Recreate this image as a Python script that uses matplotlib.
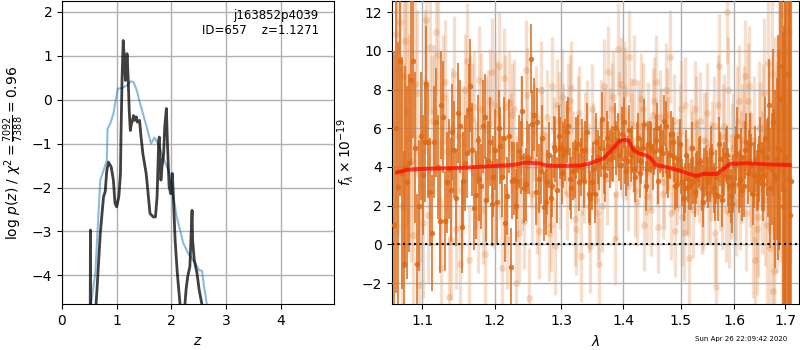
import matplotlib
matplotlib.use("Agg")
import matplotlib.pyplot as plt
from matplotlib.ticker import FixedLocator, FixedFormatter, NullLocator

# ---------------- left panel: log p(z) ----------------
z_smooth = [0.50, 0.53, 0.61, 0.70, 0.76, 0.82, 0.834, 0.88, 0.94, 1.02, 1.10, 1.19, 1.26, 1.31,
            1.37, 1.43, 1.55, 1.63, 1.69, 1.74, 1.86, 1.98, 2.04, 2.10, 2.22, 2.31, 2.44, 2.51,
            2.56, 2.60, 2.65, 2.70]
lnp_smooth = [-6.0, -4.66, -3.95, -1.83, -1.61, -1.38, -0.66, -0.55, -0.32, 0.25, 0.27, 0.33, 0.42, 0.40,
              0.21, -0.09, -0.62, -1.00, -0.86, -0.96, -1.34, -1.72, -2.21, -2.67, -3.27, -3.50, -3.73, -3.89,
              -3.89, -4.26, -4.66, -6.0]

z_grid = [0.50, 0.515, 0.52, 0.525, 0.54, 0.58, 0.64, 0.70, 0.76, 0.79, 0.82, 0.85, 0.90, 0.94, 0.97,
          1.00, 1.04, 1.07, 1.08, 1.10, 1.12, 1.14, 1.16, 1.18, 1.19, 1.21, 1.23, 1.25, 1.27, 1.29,
          1.31, 1.33, 1.36, 1.38, 1.42, 1.44, 1.48, 1.50, 1.54, 1.57, 1.61, 1.67, 1.71, 1.74, 1.77,
          1.78, 1.81, 1.83, 1.86, 1.88, 1.91, 1.93, 1.96, 1.99, 2.02, 2.04, 2.07, 2.11, 2.16, 2.20,
          2.25, 2.27, 2.30, 2.34, 2.38, 2.39, 2.42, 2.47, 2.51, 2.56, 2.60]
lnp_grid = [-6.0, -6.0, -2.97, -6.0, -6.0, -5.5, -4.33, -3.05, -2.21, -2.10, -1.61, -1.42, -1.53, -1.83, -2.36,
            -2.44, -2.21, -1.68, -0.77, 0.52, 1.35, 0.97, 0.44, 0.74, 1.05, 0.52, -0.24, -0.70, -0.55, -0.47,
            -0.36, -0.47, -0.39, -0.51, -0.47, -0.77, -1.23, -1.38, -1.68, -2.06, -2.59, -2.67, -2.67, -2.21, -0.92,
            -0.85, -1.83, -1.53, -1.23, -0.62, -0.20, -1.00, -1.98, -2.14, -1.68, -2.29, -3.20, -3.95, -4.66, -5.5,
            -4.66, -4.33, -4.03, -3.80, -2.52, -3.20, -3.65, -3.95, -4.33, -4.66, -6.0]

# ---------------- right panel: spectrum ----------------
# strong beam, first set
wave_a = [1.063, 1.068, 1.073, 1.078, 1.083, 1.088, 1.093, 1.098, 1.103, 1.108, 1.113, 1.118, 1.123,
          1.128, 1.133, 1.138, 1.143, 1.148, 1.153, 1.158, 1.163, 1.168, 1.173, 1.178, 1.183, 1.188,
          1.193, 1.198, 1.203, 1.208, 1.213, 1.218, 1.223, 1.228, 1.233, 1.238, 1.243, 1.248, 1.253,
          1.258, 1.263, 1.268, 1.273, 1.278, 1.283, 1.288, 1.293, 1.298, 1.303, 1.308, 1.313, 1.318,
          1.323, 1.328, 1.333, 1.338, 1.343, 1.348, 1.353, 1.358, 1.363, 1.368, 1.373, 1.378, 1.383,
          1.388, 1.393, 1.398, 1.403, 1.408, 1.413, 1.418, 1.423, 1.428, 1.433, 1.438, 1.443, 1.448,
          1.453, 1.458, 1.463, 1.468, 1.473, 1.478, 1.483, 1.488, 1.493, 1.498, 1.503, 1.508, 1.513,
          1.518, 1.523, 1.528, 1.533, 1.538, 1.543, 1.548, 1.553, 1.558, 1.563, 1.568, 1.573, 1.578,
          1.583, 1.588, 1.593, 1.598, 1.603, 1.608, 1.613, 1.618, 1.623, 1.628, 1.633, 1.638, 1.643,
          1.648, 1.653, 1.658, 1.663, 1.668, 1.673, 1.678, 1.683, 1.688, 1.693, 1.698, 1.703, 1.708,
          1.713]
flux_a = [1.0, 2.95, 3.7, 4.0, 4.2, 9.5, -1.0, 5.6, 5.3, 5.3, 0.6, 6.3, 1.2,
          6.6, 3.2, 2.8, 4.9, 6.8, 0.9, 4.2, 7.0, 4.9, 2.55, 3.4, 6.1, 2.3,
          5.3, 3.5, 2.2, 5.1, 5.5, 2.5, -1.15, 3.4, 3.3, 4.5, 2.9, 4.5, 9.6,
          6.7, 6.3, 3.8, 1.95, 3.2, 2.4, 5.05, 2.8, 5.0, 4.6, 5.8, 3.4, 3.8,
          5.0, 3.2, 4.9, 4.9, 2.6, 3.2, 2.6, 4.5, 5.0, 4.0, 5.5, 4.4, 4.5,
          5.0, 4.6, 5.7, 4.4, 4.3, 4.6, 3.9, 5.0, 3.7, 5.0, 3.0, 5.2, 5.0,
          4.8, 6.0, 4.9, 4.7, 6.1, 3.6, 5.7, 4.5, 3.1, 5.2, 3.2, 2.9, 3.4,
          3.1, 3.3, 3.4, 4.2, 2.9, 3.7, 3.5, 3.6, 3.9, 2.6, 2.5, 4.4, 3.6,
          4.6, 3.5, 2.5, 3.1, 4.7, 3.1, 4.5, 3.0, 5.3, 4.3, 4.1, 3.6, 3.3,
          3.9, 3.5, 3.6, 4.5, 7.2, 3.9, 3.6, 4.4, 4.9, 9.2, 2.8, 4.5, 3.4,
          3.3]
err_a = [9.0, 7.5, 6.0, 5.2, 4.6, 4.0, 3.6, 3.3, 3.1, 2.9, 3.0, 2.8, 2.7,
         2.9, 2.6, 2.7, 2.5, 2.6, 2.4, 2.5, 2.3, 2.4, 2.3, 2.2, 2.4, 2.2,
         2.3, 2.1, 2.2, 2.0, 2.1, 2.0, 2.0, 1.9, 2.0, 1.9, 1.8, 1.9, 1.8,
         1.9, 1.8, 1.7, 1.8, 1.7, 1.8, 1.6, 1.7, 1.6, 1.7, 1.6, 1.6, 1.5,
         1.6, 1.5, 1.6, 1.5, 1.5, 1.4, 1.5, 1.4, 1.5, 1.4, 1.4, 1.5, 1.3,
         1.4, 1.3, 1.4, 1.3, 1.3, 1.4, 1.2, 1.3, 1.3, 1.2, 1.3, 1.2, 1.3,
         1.2, 1.3, 1.2, 1.2, 1.3, 1.2, 1.2, 1.3, 1.2, 1.3, 1.2, 1.3, 1.2,
         1.3, 1.2, 1.3, 1.3, 1.2, 1.3, 1.3, 1.4, 1.3, 1.4, 1.3, 1.4, 1.4,
         1.4, 1.5, 1.4, 1.5, 1.4, 1.5, 1.5, 1.6, 1.5, 1.6, 1.6, 1.7, 1.6,
         1.7, 1.8, 1.9, 2.0, 2.4, 2.9, 3.4, 4.2, 5.2, 6.5, 8.5, 10.0, 12.0,
         14.0]

# strong beam, second set
wave_c = [1.0655, 1.0705, 1.0755, 1.0805, 1.0855, 1.0905, 1.0955,
          1.1005, 1.1055, 1.1105, 1.1155, 1.1205, 1.1255, 1.1305, 1.1355, 1.1405, 1.1455,
          1.1505, 1.1555, 1.1605, 1.1655, 1.1705, 1.1755, 1.1805, 1.1855, 1.1905, 1.1955,
          1.2005, 1.2055, 1.2105, 1.2155, 1.2205, 1.2255, 1.2305, 1.2355, 1.2405, 1.2455,
          1.2505, 1.2555, 1.2605, 1.2655, 1.2705, 1.2755, 1.2805, 1.2855, 1.2905, 1.2955,
          1.3005, 1.3055, 1.3105, 1.3155, 1.3205, 1.3255, 1.3305, 1.3355, 1.3405, 1.3455,
          1.3505, 1.3555, 1.3605, 1.3655, 1.3705, 1.3755, 1.3805, 1.3855, 1.3905, 1.3955,
          1.4005, 1.4055, 1.4105, 1.4155, 1.4205, 1.4255, 1.4305, 1.4355, 1.4405, 1.4455,
          1.4505, 1.4555, 1.4605, 1.4655, 1.4705, 1.4755, 1.4805, 1.4855, 1.4905, 1.4955,
          1.5005, 1.5055, 1.5105, 1.5155, 1.5205, 1.5255, 1.5305, 1.5355, 1.5405, 1.5455,
          1.5505, 1.5555, 1.5605, 1.5655, 1.5705, 1.5755, 1.5805, 1.5855, 1.5905, 1.5955,
          1.6005, 1.6055, 1.6105, 1.6155, 1.6205, 1.6255, 1.6305, 1.6355, 1.6405, 1.6455,
          1.6505, 1.6555, 1.6605, 1.6655, 1.6705, 1.6755, 1.6805, 1.6855, 1.6905, 1.6955,
          1.7005, 1.7055, 1.7105]
flux_c = [6.0, 9.5, -1.0, 3.2, 8.5, 5.0, 2.0,
          3.6, 8.3, 2.7, 5.3, 4.0, 7.2, 1.2, 3.9, 5.8, 2.4,
          6.1, 3.3, 4.7, 8.2, 1.9, 5.4, 3.0, 6.6, 4.3, 2.1,
          4.9, 6.0, 3.5, 1.1, 5.6, 3.3, 2.0, 4.8, 6.9, 3.1,
          4.4, 6.2, 2.7, 3.4, 5.5, 2.2, 4.6, 3.0, 4.9, 5.6,
          3.7, 4.9, 6.1, 2.9, 3.9, 5.2, 4.0, 3.3, 5.8, 2.4,
          3.9, 5.3, 4.2, 6.5, 3.6, 5.1, 4.7, 6.0, 5.4, 4.1,
          6.3, 3.8, 5.9, 4.9, 3.5, 5.5, 4.3, 6.2, 3.9, 5.1,
          4.0, 5.4, 3.3, 5.0, 6.4, 3.8, 4.6, 5.3, 3.0, 4.4,
          3.9, 2.4, 4.6, 3.0, 5.0, 2.7, 3.6, 4.3, 2.2, 3.8,
          3.2, 4.7, 2.9, 3.5, 5.2, 2.3, 3.9, 4.6, 3.0, 2.1,
          4.1, 5.6, 3.4, 2.8, 4.9, 3.7, 5.2, 2.6, 4.4, 3.5,
          4.8, 3.1, 5.5, 4.0, 2.9, 6.3, 3.4, 5.0, 7.5, 2.0,
          4.2, 8.8, 1.5]
err_c = [8.5, 7.0, 5.8, 5.0, 4.4, 3.9, 3.4,
         3.1, 3.0, 2.8, 2.9, 2.7, 2.8, 2.6, 2.6, 2.5, 2.5,
         2.4, 2.5, 2.3, 2.4, 2.2, 2.3, 2.2, 2.2, 2.1, 2.2,
         2.1, 2.0, 2.1, 2.0, 1.9, 2.0, 1.9, 1.9, 1.8, 1.9,
         1.8, 1.8, 1.7, 1.8, 1.7, 1.7, 1.7, 1.6, 1.7, 1.6,
         1.6, 1.6, 1.5, 1.6, 1.5, 1.5, 1.5, 1.4, 1.5, 1.4,
         1.4, 1.5, 1.4, 1.4, 1.4, 1.3, 1.4, 1.3, 1.4, 1.3,
         1.3, 1.3, 1.3, 1.2, 1.3, 1.3, 1.2, 1.3, 1.2, 1.3,
         1.2, 1.3, 1.2, 1.2, 1.3, 1.2, 1.2, 1.3, 1.2, 1.2,
         1.3, 1.2, 1.3, 1.2, 1.3, 1.3, 1.2, 1.3, 1.3, 1.3,
         1.3, 1.4, 1.3, 1.4, 1.4, 1.4, 1.4, 1.5, 1.4, 1.5,
         1.5, 1.5, 1.5, 1.6, 1.5, 1.6, 1.6, 1.6, 1.7, 1.7,
         1.8, 1.9, 2.1, 2.6, 3.1, 3.8, 4.6, 5.8, 7.5, 9.0,
         11.0, 13.0, 15.0]

# weak beam, first set
wave_b = [1.0655, 1.0705, 1.0755, 1.0805, 1.0855, 1.0905, 1.0955, 1.1005, 1.1055, 1.1105, 1.1155,
          1.1205, 1.1255, 1.1305, 1.1355, 1.1405, 1.1455, 1.1505, 1.1555, 1.1605, 1.1655, 1.1705,
          1.1755, 1.1805, 1.1855, 1.1905, 1.1955, 1.2005, 1.2055, 1.2105, 1.2155, 1.2205, 1.2255,
          1.2305, 1.2355, 1.2405, 1.2455, 1.2505, 1.2555, 1.2605, 1.2655, 1.2705, 1.2755, 1.2805,
          1.2855, 1.2905, 1.2955, 1.3005, 1.3055, 1.3105, 1.3155, 1.3205, 1.3255, 1.3305, 1.3355,
          1.3405, 1.3455, 1.3505, 1.3555, 1.3605, 1.3655, 1.3705, 1.3755, 1.3805, 1.3855, 1.3905,
          1.3955, 1.4005, 1.4055, 1.4105, 1.4155, 1.4205, 1.4255, 1.4305, 1.4355, 1.4405, 1.4455,
          1.4505, 1.4555, 1.4605, 1.4655, 1.4705, 1.4755, 1.4805, 1.4855, 1.4905, 1.4955, 1.5005,
          1.5055, 1.5105, 1.5155, 1.5205, 1.5255, 1.5305, 1.5355, 1.5405, 1.5455, 1.5505, 1.5555,
          1.5605, 1.5655, 1.5705, 1.5755, 1.5805, 1.5855, 1.5905, 1.5955, 1.6005, 1.6055, 1.6105,
          1.6155, 1.6205, 1.6255, 1.6305, 1.6355, 1.6405, 1.6455, 1.6505, 1.6555, 1.6605, 1.6655,
          1.6705, 1.6755, 1.6805, 1.6855, 1.6905, 1.6955, 1.7005, 1.7055, 1.7105]
flux_b = [10.9, 11.5, 8.7, 6.9, 4.3, 8.3, -2.1, 1.1, 11.6, 10.2, 6.9,
          9.8, -1.2, 8.4, -2.7, 6.0, 0.8, -1.0, 5.2, 9.5, 6.8, 7.1,
          1.4, 7.0, -0.5, 6.2, 8.9, 7.2, 9.2, -1.2, 7.1, 7.3, 6.7,
          -2.0, 0.6, 3.3, 9.0, -2.8, 2.6, 6.6, 0.7, 5.7, 3.3, 0.6,
          8.2, -0.1, 6.4, 7.6, 5.0, 7.0, 8.1, 1.3, 6.3, -0.6, 3.5,
          6.1, -0.1, 4.9, 2.3, -1.0, 2.0, 5.7, 8.9, 7.0, 0.3, 10.1,
          8.3, 8.1, 4.7, 9.7, 5.4, 2.8, 6.1, 7.5, 1.0, 2.5, 4.2,
          6.7, 8.4, 0.9, 5.7, 3.2, 6.7, 9.7, 4.0, 0.7, 4.1, 7.0,
          0.6, 3.0, -0.7, 4.4, 7.0, 4.0, 6.4, 2.2, 5.3, 2.6, 3.8,
          6.1, -2.2, 9.2, 2.4, 6.1, 12.0, 1.6, 4.5, 3.0, 6.4, 2.6,
          5.4, 8.7, 7.4, 3.9, 0.2, -0.8, 1.4, 5.2, 6.0, 2.3, 9.4,
          -0.2, -2.4, 6.7, 5.0, 3.7, 11.9, 10.0, 2.0, 6.0]
err_b = [9.0, 8.0, 7.0, 6.0, 5.2, 4.6, 4.2, 3.9, 3.6, 3.5, 3.4,
         3.3, 3.3, 3.2, 3.2, 3.1, 3.1, 3.0, 3.0, 3.0, 3.0, 2.9,
         2.9, 2.9, 2.9, 2.8, 2.8, 2.8, 2.8, 2.7, 2.7, 2.7, 2.7,
         2.7, 2.6, 2.6, 2.6, 2.6, 2.6, 2.6, 2.5, 2.5, 2.5, 2.5,
         2.5, 2.5, 2.5, 2.5, 2.4, 2.4, 2.4, 2.4, 2.4, 2.4, 2.4,
         2.4, 2.4, 2.4, 2.4, 2.4, 2.4, 2.4, 2.4, 2.4, 2.4, 2.4,
         2.4, 2.4, 2.4, 2.4, 2.4, 2.4, 2.4, 2.4, 2.4, 2.4, 2.4,
         2.4, 2.4, 2.4, 2.4, 2.4, 2.4, 2.4, 2.4, 2.4, 2.4, 2.5,
         2.5, 2.5, 2.5, 2.5, 2.5, 2.5, 2.5, 2.5, 2.6, 2.6, 2.6,
         2.6, 2.6, 2.7, 2.7, 2.7, 2.7, 2.8, 2.8, 2.8, 2.8, 2.9,
         2.9, 2.9, 3.0, 3.0, 3.0, 3.1, 3.1, 3.2, 3.3, 3.4, 3.5,
         3.6, 3.8, 4.0, 4.3, 4.6, 5.0, 5.5, 6.0, 7.0]

# weak beam, second set
wave_d = [1.068, 1.073, 1.078, 1.083, 1.088, 1.093,
          1.098, 1.103, 1.108, 1.113, 1.118, 1.123, 1.128, 1.133, 1.138, 1.143,
          1.148, 1.153, 1.158, 1.163, 1.168, 1.173, 1.178, 1.183, 1.188, 1.193,
          1.198, 1.203, 1.208, 1.213, 1.218, 1.223, 1.228, 1.233, 1.238, 1.243,
          1.248, 1.253, 1.258, 1.263, 1.268, 1.273, 1.278, 1.283, 1.288, 1.293,
          1.298, 1.303, 1.308, 1.313, 1.318, 1.323, 1.328, 1.333, 1.338, 1.343,
          1.348, 1.353, 1.358, 1.363, 1.368, 1.373, 1.378, 1.383, 1.388, 1.393,
          1.398, 1.403, 1.408, 1.413, 1.418, 1.423, 1.428, 1.433, 1.438, 1.443,
          1.448, 1.453, 1.458, 1.463, 1.468, 1.473, 1.478, 1.483, 1.488, 1.493,
          1.498, 1.503, 1.508, 1.513, 1.518, 1.523, 1.528, 1.533, 1.538, 1.543,
          1.548, 1.553, 1.558, 1.563, 1.568, 1.573, 1.578, 1.583, 1.588, 1.593,
          1.598, 1.603, 1.608, 1.613, 1.618, 1.623, 1.628, 1.633, 1.638, 1.643,
          1.648, 1.653, 1.658, 1.663, 1.668, 1.673, 1.678, 1.683, 1.688, 1.693,
          1.698, 1.703, 1.708]
flux_d = [9.0, 2.0, 10.5, 5.5, 0.5, 7.8,
          3.0, 8.4, 1.5, 6.4, 11.0, 2.2, 7.6, 4.8, 0.2, 8.8,
          5.6, 2.8, 8.0, -0.8, 6.5, 3.6, 8.5, 1.8, 5.9, 7.4,
          2.5, 6.8, 4.0, 8.6, 0.3, 5.2, 7.0, 3.0, 6.2, 1.2,
          7.7, 4.4, 5.8, 2.0, 8.0, 3.6, 6.6, 1.0, 5.2, 7.2,
          3.2, 6.0, 2.6, 7.4, 4.6, 0.8, 6.8, 3.8, 5.5, 2.0,
          7.0, 4.2, 1.6, 6.2, 8.2, 3.4, 5.8, 7.6, 2.6, 6.6,
          4.8, 7.8, 3.0, 6.2, 8.4, 2.2, 5.6, 7.0, 3.8, 6.0,
          1.8, 7.4, 4.4, 6.6, 2.6, 8.0, 5.2, 1.6, 6.4, 3.4,
          5.8, 1.4, 7.2, 3.0, 5.0, 1.8, 6.2, 3.6, 2.0, 5.4,
          6.8, 2.6, 4.8, 0.6, 7.2, 3.4, 5.6, 1.8, 8.0, 3.0,
          5.0, 2.2, 7.4, 4.0, 6.2, 1.6, 8.2, 3.6, 5.4, 0.8,
          6.0, 3.2, 7.8, 1.0, 5.0, 8.8, -1.4, 4.0, 9.8, 2.4,
          6.6, -0.6, 11.0]
err_d = [8.5, 7.2, 6.2, 5.4, 4.8, 4.3,
         3.9, 3.7, 3.5, 3.4, 3.3, 3.3, 3.2, 3.1, 3.1, 3.0,
         3.0, 3.0, 2.9, 2.9, 2.9, 2.8, 2.8, 2.8, 2.8, 2.7,
         2.7, 2.7, 2.7, 2.6, 2.6, 2.6, 2.6, 2.6, 2.5, 2.5,
         2.5, 2.5, 2.5, 2.5, 2.5, 2.5, 2.4, 2.4, 2.4, 2.4,
         2.4, 2.3, 2.4, 2.4, 2.3, 2.4, 2.4, 2.3, 2.4, 2.4,
         2.3, 2.4, 2.4, 2.3, 2.4, 2.4, 2.3, 2.4, 2.4, 2.3,
         2.4, 2.4, 2.3, 2.4, 2.4, 2.3, 2.4, 2.4, 2.3, 2.4,
         2.4, 2.3, 2.4, 2.4, 2.3, 2.4, 2.4, 2.4, 2.4, 2.4,
         2.5, 2.5, 2.5, 2.5, 2.5, 2.5, 2.5, 2.5, 2.5, 2.5,
         2.6, 2.6, 2.6, 2.6, 2.6, 2.7, 2.7, 2.7, 2.7, 2.7,
         2.8, 2.8, 2.9, 2.9, 3.0, 3.0, 3.1, 3.2, 3.3, 3.4,
         3.5, 3.7, 3.9, 4.1, 4.4, 4.7, 5.1, 5.5, 6.0, 6.6,
         7.2, 8.0, 9.0]

wave_model = [1.067, 1.08, 1.10, 1.15, 1.20, 1.23, 1.2425, 1.265, 1.2775, 1.30, 1.33, 1.346, 1.368,
              1.383, 1.3946, 1.402, 1.409, 1.4176, 1.4265, 1.441, 1.447, 1.456, 1.4706, 1.494, 1.512,
              1.5276, 1.543, 1.5675, 1.58, 1.592, 1.624, 1.66, 1.71]
flux_model = [3.72, 3.85, 3.90, 3.95, 4.05, 4.12, 4.22, 4.19, 4.07, 4.05, 4.08, 4.19, 4.45,
              4.97, 5.36, 5.40, 5.36, 4.88, 4.71, 4.57, 4.45, 4.10, 4.02, 3.84, 3.67,
              3.53, 3.64, 3.64, 3.93, 4.16, 4.19, 4.14, 4.10]

lam_ticks = [1.1, 1.2, 1.3, 1.4, 1.5, 1.6, 1.7]
lam_tick_labels = ['1.1', '1.2', '1.3', '1.4', '1.5', '1.6', '1.7']

title_name = 'j163852p4039'
title_id = 'ID=657    z=1.1271'
stamp = 'Sun Apr 26 22:09:42 2020'

orange = '#dc6a17'

fig = plt.figure(figsize=(8, 3.5), dpi=100)
ax1 = fig.add_axes([0.0775, 0.1306, 0.3395, 0.8665])
ax2 = fig.add_axes([0.4896, 0.1306, 0.5095, 0.8665])

# left
ax1.plot(z_smooth, lnp_smooth, color='tab:blue', alpha=0.5, lw=1.5)
ax1.plot(z_grid, lnp_grid, color='k', alpha=0.75, lw=2)
ax1.set_xlim(0, 4.97)
ax1.set_ylim(-4.66, 2.25)
ax1.set_xticks([0, 1, 2, 3, 4])
ax1.set_yticks([-4, -3, -2, -1, 0, 1, 2])
ax1.grid(True, color='#b0b0b0', lw=1)
ax1.set_axisbelow(True)
ax1.set_xlabel('$z$', fontsize=10)
ax1.set_ylabel(r'$\log\,p(z)$ / $\chi^2=\frac{7092}{7388}=0.96$', fontsize=10)
ax1.text(0.945, 0.975, title_name + '\n' + title_id, transform=ax1.transAxes,
         ha='right', va='top', fontsize=8.5)

# right
for w, f, e in [(wave_b, flux_b, err_b), (wave_d, flux_d, err_d)]:
    ax2.errorbar(w, f, yerr=e, fmt='o', color=orange, alpha=0.22,
                 ms=5, elinewidth=2.4, capsize=0, mew=0, zorder=2)
for w, f, e in [(wave_a, flux_a, err_a), (wave_c, flux_c, err_c)]:
    ax2.errorbar(w, f, yerr=e, fmt='o', color=orange, alpha=0.85,
                 ms=4.0, elinewidth=1.3, capsize=0, mew=0, zorder=3)
ax2.plot(wave_model, flux_model, color='red', alpha=0.7, lw=2.8, zorder=5)
ax2.axhline(0, color='k', ls=':', lw=1.5, zorder=6)
ax2.set_xscale('log')
ax2.set_xlim(1.0603, 1.7295)
ax2.set_ylim(-3.1, 12.58)
ax2.xaxis.set_major_locator(FixedLocator(lam_ticks))
ax2.xaxis.set_major_formatter(FixedFormatter(lam_tick_labels))
ax2.xaxis.set_minor_locator(NullLocator())
ax2.set_yticks([-2, 0, 2, 4, 6, 8, 10, 12])
ax2.grid(True, color='#b0b0b0', lw=1)
ax2.set_axisbelow(False)
for gl in ax2.get_xgridlines() + ax2.get_ygridlines():
    gl.set_zorder(4)
ax2.set_xlabel(r'$\lambda$', fontsize=10)
ax2.set_ylabel(r'$f_\lambda\times10^{-19}$', fontsize=10)

fig.text(0.984, 0.031, stamp, ha='right', va='center', fontsize=5)

fig.savefig('out.png', dpi=100)
